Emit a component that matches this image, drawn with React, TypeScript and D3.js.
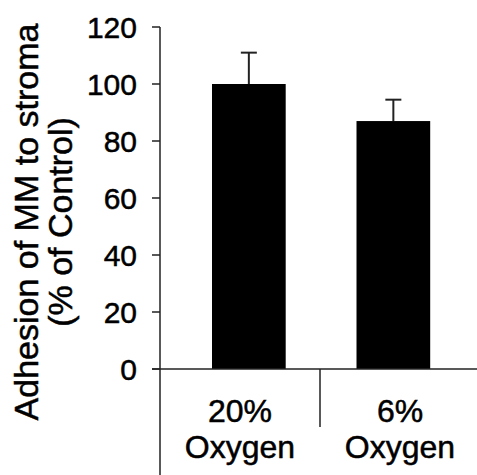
import React from "react";
import * as d3 from "d3";

const categories = ["20%|Oxygen", "6%|Oxygen"];
const values = [100, 87];
const errors = [11, 7.5];
const yTicks = [0, 20, 40, 60, 80, 100, 120];
const titleLines = ["Adhesion of MM to stroma", "(% of Control)"];

const W = 477;
const H = 475;
const FONT = "'Liberation Sans', Arial, Helvetica, sans-serif";

export default function App() {
  const y = d3.scaleLinear().domain([0, 120]).range([369, 27]);
  const xCat = d3.scaleBand<string>().domain(categories).range([160, 480]);
  const xBar = d3
    .scaleBand<string>()
    .domain(categories)
    .range([176.6, 465.6])
    .paddingInner(0.49)
    .paddingOuter(0.245);
  const axisX = 160;
  const stroke = "#222";
  const textStroke = { stroke: "#000", strokeWidth: 0.5 };

  return (
    <svg
      width={W}
      height={H}
      style={{ position: "fixed", left: 0, top: 0, background: "#fff" }}
      fontFamily={FONT}
    >
      <rect x={0} y={0} width={W} height={H} fill="#fff" />
      {categories.map((c, i) => {
        const x0 = xBar(c)!;
        const bw = xBar.bandwidth();
        const cx = x0 + bw / 2;
        return (
          <g key={c}>
            <line x1={cx} x2={cx} y1={y(values[i])} y2={y(values[i] + errors[i])} stroke={stroke} strokeWidth={2} />
            <line x1={cx - 8} x2={cx + 8} y1={y(values[i] + errors[i])} y2={y(values[i] + errors[i])} stroke={stroke} strokeWidth={2} />
            <rect x={x0} y={y(values[i])} width={bw} height={y(0) - y(values[i])} fill="#000" />
          </g>
        );
      })}
      <line x1={axisX} x2={axisX} y1={y(120)} y2={H} stroke={stroke} strokeWidth={1.5} />
      {yTicks.map((t) => (
        <g key={t}>
          <line x1={axisX - 8} x2={axisX} y1={y(t)} y2={y(t)} stroke={stroke} strokeWidth={1.5} />
          <text x={137} y={y(t)} dy="0.36em" textAnchor="end" fontSize={30} fill="#000" {...textStroke}>
            {t}
          </text>
        </g>
      ))}
      <line x1={axisX - 8} x2={W} y1={y(0)} y2={y(0)} stroke={stroke} strokeWidth={1.5} />
      {categories.slice(1).map((c) => (
        <line key={c} x1={xCat(c)!} x2={xCat(c)!} y1={y(0)} y2={427} stroke={stroke} strokeWidth={1.5} />
      ))}
      {categories.map((c) => {
        const [l1, l2] = c.split("|");
        const cx = xCat(c)! + xCat.bandwidth() / 2;
        return (
          <g key={c}>
            <text x={cx} y={422} textAnchor="middle" fontSize={32} fill="#000" {...textStroke}>
              {l1}
            </text>
            <text x={cx} y={458} textAnchor="middle" fontSize={32} fill="#000" {...textStroke}>
              {l2}
            </text>
          </g>
        );
      })}
      {titleLines.map((t, i) => (
        <text
          key={t}
          transform={`translate(${38 + i * 34},222) rotate(-90)`}
          textAnchor="middle"
          fontSize={34}
          fill="#000"
          {...textStroke}
        >
          {t}
        </text>
      ))}
    </svg>
  );
}
